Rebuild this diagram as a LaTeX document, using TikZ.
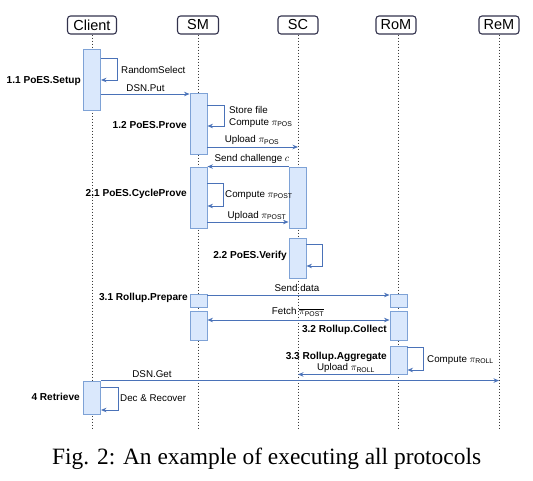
\documentclass[tikz,border=0pt]{standalone}
\usepackage{fontspec}
\setmainfont{Liberation Sans}
\newfontfamily\capfont{Liberation Serif}
\usetikzlibrary{arrows.meta}
\definecolor{actfill}{HTML}{DAE8FC}
\definecolor{actdraw}{HTML}{7EA2D6}
\definecolor{msgcol}{HTML}{4A72B8}
\definecolor{hdrdraw}{HTML}{33334D}
\definecolor{lifecol}{HTML}{3C3C3C}
\tikzset{
  hdr/.style={draw=hdrdraw, line width=1.1pt, rounded corners=3pt, fill=white,
    minimum height=18pt, minimum width=40pt, inner sep=0pt, font=\fontsize{14.5}{16}\selectfont},
  life/.style={draw=lifecol, dotted, line width=1pt},
  act/.style={draw=actdraw, fill=actfill, line width=0.9pt, minimum width=17pt, inner sep=0pt},
  msg/.style={draw=msgcol, line width=1pt, -{Stealth[length=5.5pt,width=4.5pt]}},
  dmsg/.style={draw=msgcol, line width=1pt, {Stealth[length=5.5pt,width=4.5pt]}-{Stealth[length=5.5pt,width=4.5pt]}},
  lbl/.style={font=\fontsize{9.8}{11}\selectfont, inner sep=0pt},
  blbl/.style={font=\fontsize{10.1}{11}\selectfont\bfseries, inner sep=0pt, anchor=east},
}
\begin{document}
\begin{tikzpicture}[x=1pt,y=-1pt]
\useasboundingbox (0,0) rectangle (533,480);
% headers
\node[hdr, minimum width=49pt] (hC) at (92,25) {Client};
\node[hdr, minimum width=41pt] (hSM) at (198,25) {SM};
\node[hdr] (hSC) at (298,25) {SC};
\node[hdr] (hRoM) at (396,25) {RoM};
\node[hdr] (hReM) at (499,25) {ReM};
% lifeline ends
\coordinate (eC) at (92,428);
\coordinate (eSM) at (198,428);
\coordinate (eSC) at (298,428);
\coordinate (eRoM) at (398,428);
\coordinate (eReM) at (499,428);
\draw[life] (hC.south) -- (eC);
\draw[life] (hSM.south) -- (eSM);
\draw[life] (hSC.south) -- (eSC);
\draw[life] (hRoM.south -| eRoM) -- (eRoM);
\draw[life] (hReM.south) -- (eReM);
% activation boxes
\node[act, minimum height=33pt] (a2) at (92,397.5) {};
\node[act, minimum height=61pt] (a1) at (92,79.5) {};
\node[act, minimum height=61pt] (b1) at (198.5,123.5) {};
\node[act, minimum height=61pt] (b2) at (198.5,197.5) {};
\node[act, minimum height=61pt] (c1) at (297.5,197.5) {};
\node[act, minimum height=40pt] (c2) at (297.5,258) {};
\node[act, minimum height=13pt] (b3) at (198.5,300.5) {};
\node[act, minimum height=13pt] (d1) at (398.5,300.5) {};
\node[act, minimum height=29pt] (b4) at (198.5,325.5) {};
\node[act, minimum height=29pt] (d2) at (398.5,325.5) {};
\node[act, minimum height=28pt] (d3) at (398.5,360) {};
% self loops
\draw[msg] (a1.east |- 0,58) -- ++(17,0) -- ++(0,22) -- ++(-17,0);
\draw[msg] (b1.east |- 0,105) -- ++(17,0) -- ++(0,21) -- ++(-17,0);
\draw[msg] (b2.east |- 0,183) -- ++(16,0) -- ++(0,23) -- ++(-16,0);
\draw[msg] (c2.east |- 0,244) -- ++(16,0) -- ++(0,22) -- ++(-16,0);
\draw[msg] (d3.east |- 0,347) -- ++(16,0) -- ++(0,23) -- ++(-16,0);
\draw[msg] (a2.east |- 0,387) -- ++(18,0) -- ++(0,23) -- ++(-18,0);
% messages
\draw[msg] (a1.east |- 0,94) -- (b1.west |- 0,94);
\draw[msg] (b1.east |- 0,147) -- (eSC |- 0,147);
\draw[msg] (c1.north west) -- (b2.north east);
\draw[msg] (b2.east |- 0,222) -- (c1.west |- 0,222);
\draw[msg] (b3.east |- 0,295) -- (d1.west |- 0,295);
\draw[dmsg] (b4.east |- 0,320) -- (d2.west |- 0,320);
\draw[msg] (d3.south west) -- (eSC |- d3.south);
\draw[msg] (a2.north east) -- (eReM |- a2.north);
% labels
\node[lbl, anchor=west] (t1) at (121,70) {RandomSelect};
\node[lbl] (t2) at (145.5,88) {DSN.Put};
\node[lbl, anchor=west] (t3) at (229,110) {Store file};
\node[lbl, anchor=west] (t4) at (229,123) {Compute $\pi_{\mathrm{POS}}$};
\node[lbl] (t5) at (252,140) {Upload $\pi_{\mathrm{POS}}$};
\node[lbl] (t6) at (252,159) {Send challenge $c$};
\node[lbl, anchor=west] (t7) at (225,195) {Compute $\pi_{\mathrm{POST}}$};
\node[lbl] (t8) at (257,215.5) {Upload $\pi_{\mathrm{POST}}$};
\node[lbl] (t9) at (297,288) {Send data};
\node[lbl] (t10) at (298,312) {Fetch $\overline{\pi_{\mathrm{POST}}}$};
\node[lbl] (t11) at (346,368) {Upload $\pi_{\mathrm{ROLL}}$};
\node[lbl, anchor=west] (t12) at (427,360) {Compute $\pi_{\mathrm{ROLL}}$};
\node[lbl] (t13) at (152,374) {DSN.Get};
\node[lbl, anchor=west] (t14) at (120,398) {Dec \& Recover};
% step labels
\node[blbl] (s1) at (81,81) {1.1 PoES.Setup};
\node[blbl] (s2) at (187,125) {1.2 PoES.Prove};
\node[blbl] (s3) at (187,194) {2.1 PoES.CycleProve};
\node[blbl] (s4) at (287,256) {2.2 PoES.Verify};
\node[blbl] (s5) at (188,298) {3.1 Rollup.Prepare};
\node[blbl] (s6) at (387,330) {3.2 Rollup.Collect};
\node[blbl] (s7) at (387,357) {3.3 Rollup.Aggregate};
\node[blbl] (s8) at (80,397) {4 Retrieve};
% caption
\node[anchor=base west, inner sep=0pt, font=\capfont\fontsize{23.4}{26}\selectfont] (cap) at (52,464) {Fig. 2: An example of executing all protocols};
\end{tikzpicture}
\end{document}
